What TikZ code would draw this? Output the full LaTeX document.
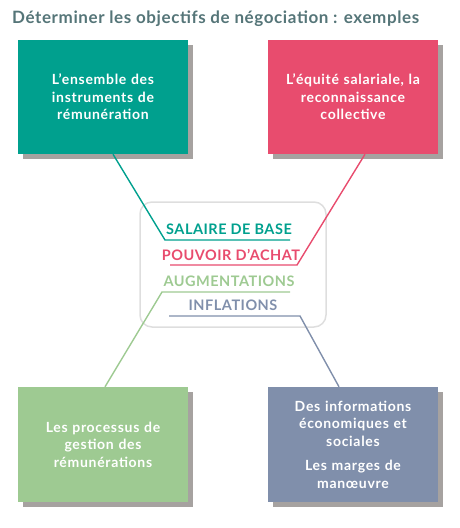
\documentclass[tikz,border=0pt]{standalone}
\usepackage{fontspec}
\setmainfont{Lato}
\newfontfamily\titlefont{Lato}[LetterSpace=3.5]
\newfontfamily\cardfont{Lato}[LetterSpace=5]
\newfontfamily\keyfont{Lato}[LetterSpace=3.5]
\usetikzlibrary{shadows,calc}
\definecolor{cteal}{RGB}{0,160,142}
\definecolor{cpink}{RGB}{232,76,110}
\definecolor{cgreen}{RGB}{158,202,146}
\definecolor{cslate}{RGB}{128,143,171}
\definecolor{cshadow}{RGB}{166,162,160}
\definecolor{ctitle}{RGB}{85,117,120}
\definecolor{cframe}{RGB}{222,222,222}
\begin{document}
\begin{tikzpicture}[x=1pt,y=-1pt]
\tikzset{
  card/.style={minimum width=170pt, minimum height=114pt, text width=160pt, align=center,
    font=\cardfont\fontsize{14}{17.5}\selectfont\bfseries, text=white, inner sep=0pt,
    general shadow={fill=cshadow, shadow xshift=5pt, shadow yshift=-5pt}},
  keyword/.style={anchor=base, font=\keyfont\fontsize{14.5}{16}\selectfont\bfseries, inner sep=0pt},
  link/.style={line width=1.4pt},
}
\useasboundingbox (0,0) rectangle (459,528);
\node[anchor=base west, inner sep=0pt, text=ctitle, font=\titlefont\fontsize{17}{20}\selectfont\bfseries] (title) at (12,23) {Déterminer les objectifs de négociation : exemples};

\draw[cframe, line width=1.5pt, rounded corners=12pt] (140,202) rectangle (326,327);
\node[draw=none] (frame) at (233,264.5) {};

\node[keyword, text=cteal] (k1) at (229,234) {SALAIRE DE BASE};
\node[keyword, text=cpink] (k2) at (231,260) {POUVOIR D’ACHAT};
\node[keyword, text=cgreen] (k3) at (229,286) {AUGMENTATIONS};
\node[keyword, text=cslate] (k4) at (233,310) {INFLATIONS};

\node[card, fill=cteal] (tl) at (103,97) {L’ensemble des\\instruments de\\rémunération};
\node[card, fill=cpink] (tr) at (353,97) {L’équité salariale, la\\reconnaissance\\collective};
\node[card, fill=cgreen, minimum height=115pt] (bl) at (103,444.5) {Les processus de\\gestion des\\rémunérations\\[5pt]};
\node[card, fill=cslate, minimum height=115pt] (br) at (353,444.5) {Des informations\\économiques et\\sociales\\[7pt]Les marges de\\manœuvre};

\coordinate (t1) at (165,240); \coordinate (t2) at (290,240);
\coordinate (p1) at (297,265); \coordinate (p2) at (170,265);
\coordinate (g1) at (162,292); \coordinate (g2) at (290,292);
\coordinate (s1) at (300,316); \coordinate (s2) at (169,316);

\draw[link, cteal] ($(tl.south)+(10,0)$) -- (t1) -- (t2);
\draw[link, cpink] ($(tr.south)+(12,0)$) -- (p1) -- (p2);
\draw[link, cgreen] ($(bl.north)+(2,0)$) -- (g1) -- (g2);
\draw[link, cslate] ($(br.north)+(-14,0)$) -- (s1) -- (s2);
\end{tikzpicture}
\end{document}
